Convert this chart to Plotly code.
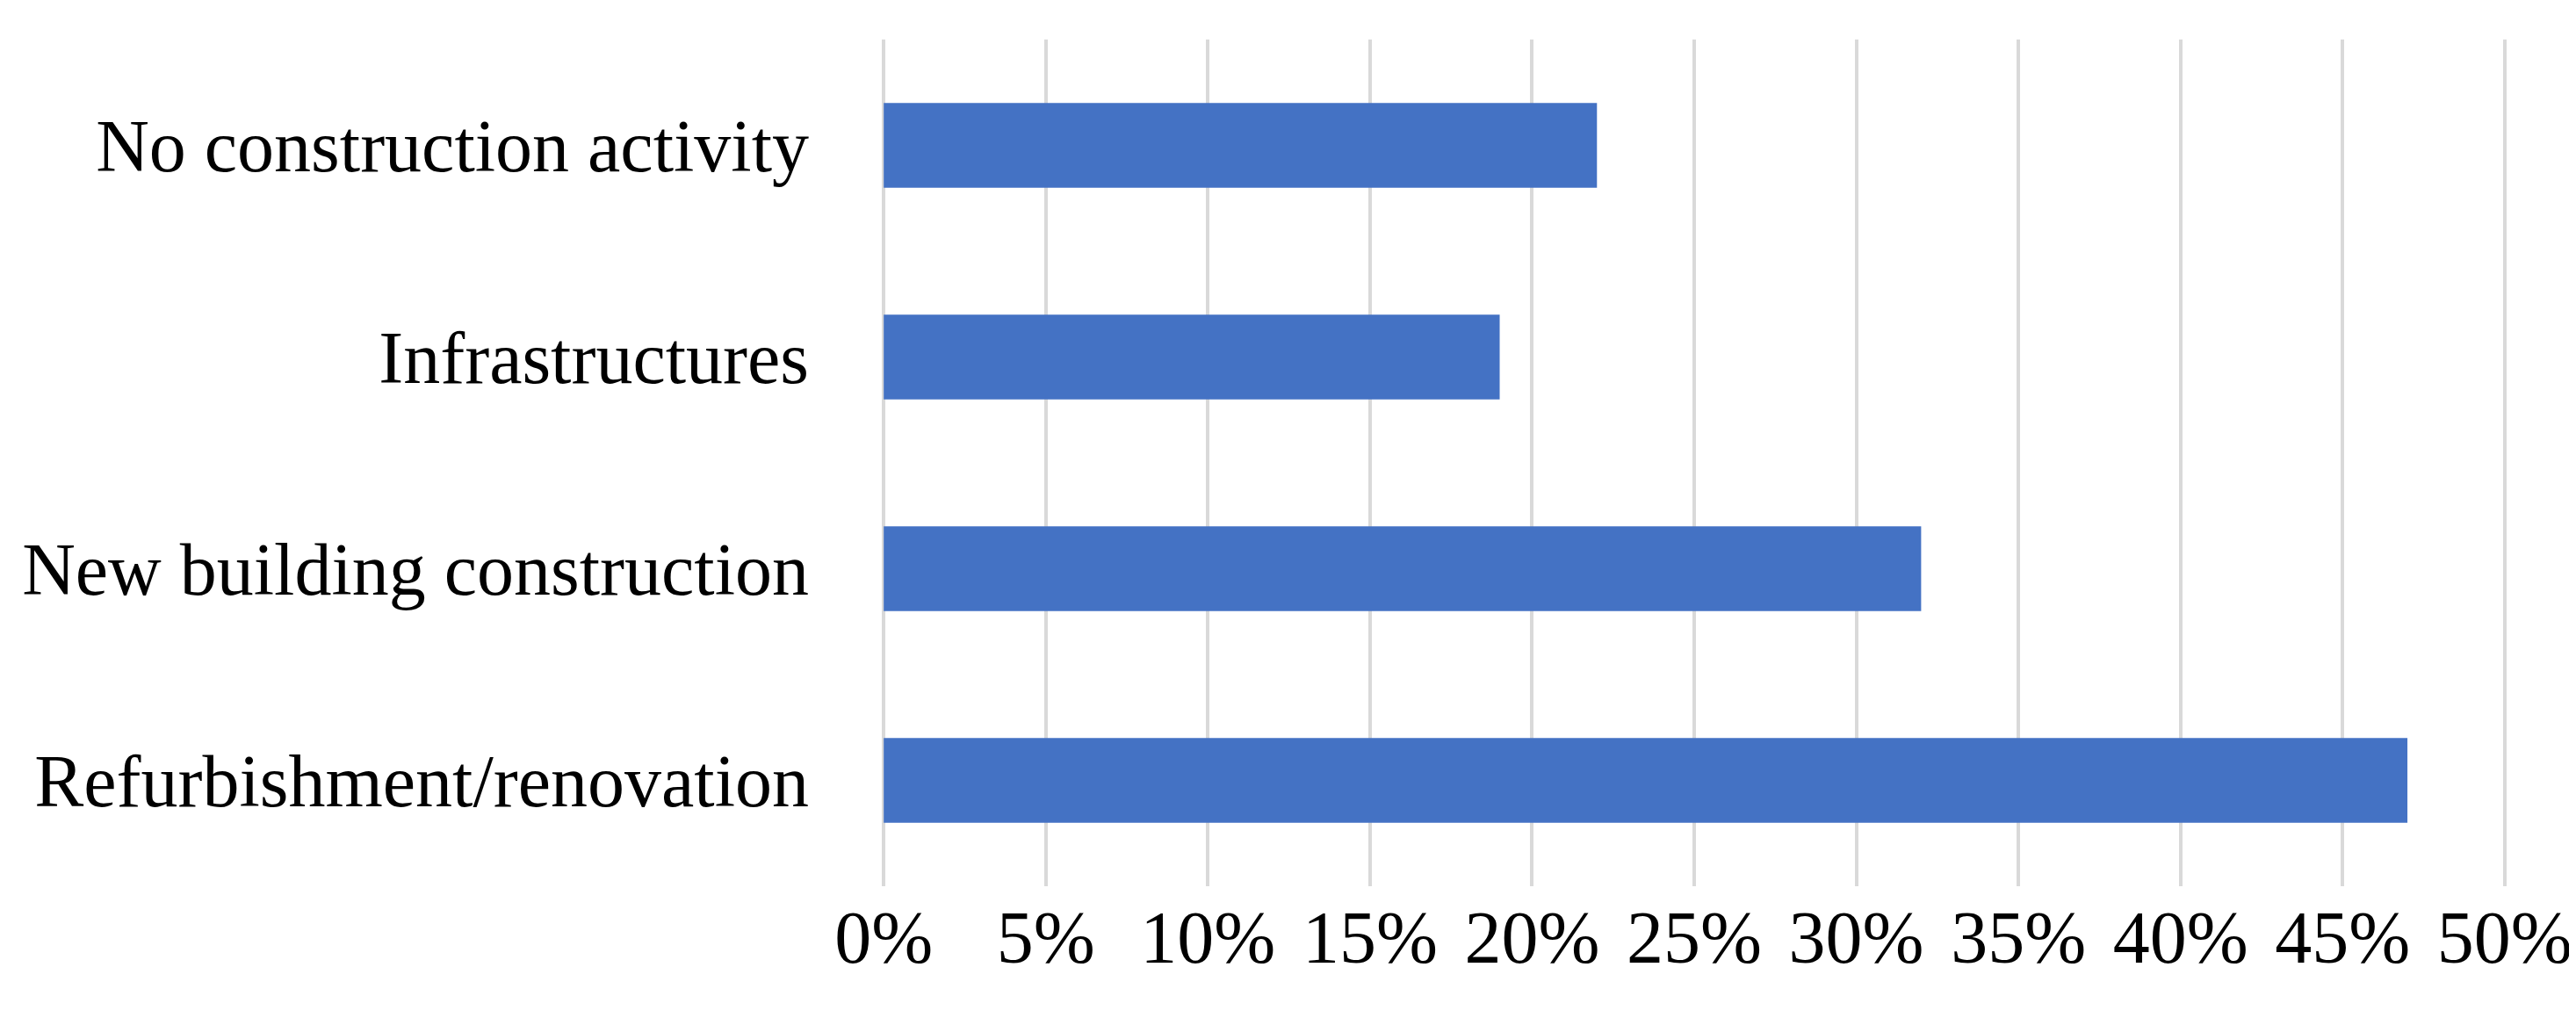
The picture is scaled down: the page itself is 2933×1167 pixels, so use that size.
import plotly.graph_objects as go

categories = ["Refurbishment/renovation", "New building construction", "Infrastructures", "No construction activity"]
values = [0.47, 0.32, 0.19, 0.22]
tick_vals = [0, 0.05, 0.10, 0.15, 0.20, 0.25, 0.30, 0.35, 0.40, 0.45, 0.50]

font_family = "Liberation Serif, DejaVu Serif, serif"

fig = go.Figure(go.Bar(
    y=categories, x=values, orientation="h",
    marker=dict(color="#4472C4", line=dict(width=0)),
    hoverinfo="skip",
))

fig.update_layout(
    width=2933, height=1167,
    margin=dict(l=996, r=81, t=37, b=166),
    paper_bgcolor="white", plot_bgcolor="white",
    bargap=0.6,
    showlegend=False,
    font=dict(family=font_family, size=84, color="black"),
)
fig.update_xaxes(
    range=[-0.0006, 0.5006], tickvals=tick_vals, tickformat=".0%",
    showgrid=True, gridcolor="#D9D9D9", gridwidth=4,
    zeroline=False, showline=False, ticks="",
    ticklabelstandoff=2,
    tickfont=dict(family=font_family, size=84, color="black"),
    fixedrange=True,
)
fig.update_yaxes(
    showgrid=False, zeroline=False, showline=False, ticks="",
    ticklabelstandoff=82,
    tickfont=dict(family=font_family, size=84, color="black"),
    fixedrange=True,
)

fig.write_html("out.html")
